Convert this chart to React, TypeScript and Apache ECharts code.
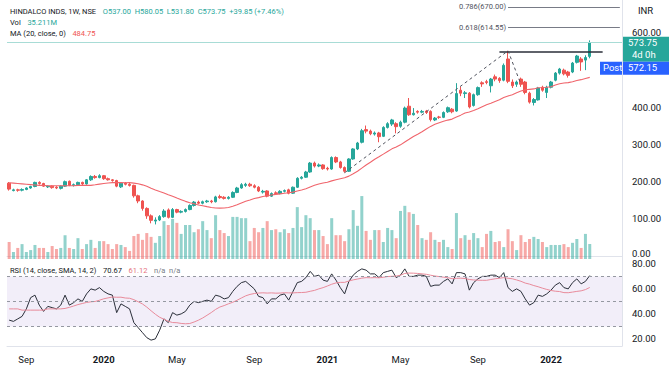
import React, { useEffect, useRef } from "react";
import * as echarts from "echarts";

// ---- data (weekly, HINDALCO INDS, NSE) ----
const startWeek = "2019-08-05";
const futureWeeks = 7;

const opens = [
  196,176,178,177,179,183,187,198,195,186,
  188,185,182,188,201,190,192,198,194,205,
  214,211,216,208,205,203,186,196,193,190,
  162,148,128,108,94,97,106,124,104,125,
  118,120,125,136,145,142,146,148,146,160,
  158,155,158,171,183,190,193,189,185,172,
  175,161,170,168,174,178,169,185,209,212,
  226,250,242,245,236,234,265,253,238,228,
  261,288,306,340,336,328,331,322,346,355,
  356,349,360,403,380,389,387,390,389,366,
  374,373,388,395,390,446,437,438,405,434,
  466,469,458,482,478,473,530,468,462,476,
  468,438,413,420,454,440,454,473,492,500,
  495,495,521,530,527,537,
];
const highs = [
  199,181,181,182,185,189,200,201,197,190,
  190,188,190,203,203,195,200,200,207,217,
  218,220,218,211,207,205,199,199,196,192,
  165,150,131,112,104,110,126,128,129,127,
  123,128,139,148,149,149,151,151,162,165,
  161,161,174,186,196,197,197,193,188,178,
  177,171,174,177,179,181,187,212,215,229,
  253,254,249,247,240,268,268,256,241,263,
  290,307,342,351,340,335,334,349,360,369,
  360,364,402,425,398,392,393,393,392,374,
  377,389,402,398,465,455,444,441,437,456,
  470,474,479,488,481,518,552,475,472,480,
  471,442,425,455,458,458,471,495,506,504,
  498,522,541,535,540,580.05,
];
const lows = [
  176,174,173,174,177,181,185,192,186,183,
  181,180,179,186,188,187,189,191,192,202,
  208,209,205,203,200,185,183,190,187,157,
  142,122,100,88,85,94,103,101,102,115,
  115,117,123,133,139,139,143,142,144,154,
  152,152,156,169,181,186,186,182,172,168,
  158,159,165,166,171,166,167,183,206,210,
  224,238,239,232,230,232,250,235,224,226,
  259,285,303,330,325,324,306,320,343,350,
  330,345,357,377,378,383,384,382,362,363,
  369,371,385,384,388,430,425,397,402,431,
  455,462,440,470,466,470,465,452,455,455,
  435,410,405,418,442,425,451,470,488,486,
  480,492,518,498,500,531.8,
];
const closes = [
  180,178,177,179,183,187,198,195,188,188,
  184,183,188,200,190,192,198,194,205,214,
  211,216,208,205,203,188,196,193,190,162,
  148,128,108,96,97,106,121,104,125,118,
  120,125,136,145,142,146,148,146,159,157,
  155,158,171,183,192,193,189,185,175,174,
  161,168,168,174,176,169,185,209,212,226,
  250,242,245,235,234,265,253,238,228,261,
  288,304,337,336,329,331,321,346,356,366,
  348,360,398,380,384,387,389,386,367,371,
  373,386,399,388,437,438,439,401,434,453,
  463,467,476,476,472,513,470,458,468,462,
  440,414,421,452,446,454,468,492,503,490,
  486,519,538,522,533.9,573.75,
];
// volume, millions of shares
const volumes = [
  40,16.5,26,35,16.5,21,33,26,26,16.5,
  30.5,23.5,26,56,26,23.5,49,23.5,35,45,
  26,42,42,35,23.5,35,33,28,19,54,
  59,45,61,52,38,54,89,80,94,85,
  59,80,80,63,70,89,68,49,103,68,
  61,54,99,99,96,96,42,73,63,73,
  89,68,70,63,70,61,73,122,75,103,
  96,68,68,54,35,96,56,56,42,70,
  115,78,148,66,45,68,68,40,73,68,
  49,113,125,110,106,80,49,45,63,45,
  40,45,28,23.5,108,49,56,45,61,49,
  28,59,66,40,42,28,70,42,21,56,
  40,47,52,47,40,28,33,33,33,35,
  28,38,47,26,59,35.211,
];
const rsi = [
  35,34,36,38,44,53,55,47,42,46,
  45,44,47,55,47,49,52,50,56,60,
  59,61,58,56,55,41,48,46,44,33,
  29,25,21,19,20,27,36,33,41,39,
  40,42,47,50,49,50,51,50,55,54,
  52,53,58,62,65,66,63,60,54,53,
  48,52,52,55,56,51,58,65,66,69,
  74,70,71,67,66,72,67,61,56,66,
  71,74,76,75,72,72,69,73,74,75,
  69,71,76,70,70,71,71,70,62,63,
  63,66,68,64,73,73,72,59,65,68,
  70,70,71,71,69,73,61,58,60,58,
  52,47,49,55,54,56,59,63,65,61,
  60,65,68,64,66,70.67,
];
// MA / RSI-MA values before a full window exists
const maHead = [197,196,195,194,193,192,191,190,190,189,189,189,189,189,189,189,190,190,190];
const rsiMaHead = [44,44,44,43,43,43,43,43,43,44,44,44,44];

const tickIndex = [4, 22, 39, 57, 74, 91, 109, 126];
const tickText = ["Sep", "2020", "May", "Sep", "2021", "May", "Sep", "2022"];
const priceTicks = [0, 100, 200, 300, 400, 600];
const rsiTicks = [20, 40, 60, 80];
const fibLevels = [614.55, 670.0];
const fibRatios = ["0.618", "0.786"];
const trendPoints = [
  { i: 78, p: 224 },
  { i: 116, p: 552 },
  { i: 119, p: 462 },
];
const resistance = { from: 114, to: 138, p: 549 };
const postPrice = 572.15;
const legendVol = "35.211M";
const legendMa = "484.75";
const legendRsi = "70.67";
const legendRsiMa = "61.12";

const FONT = "Roboto, 'DejaVu Sans', sans-serif";
const UP = "#26a69a";
const DOWN = "#ef5350";

export default function App() {
  const ref = useRef<HTMLDivElement>(null);

  useEffect(() => {
    document.body.style.margin = "0";
    const N = closes.length;
    const total = N + futureWeeks;
    const t0 = Date.parse(startWeek + "T00:00:00Z");
    const categories = Array.from({ length: total }, (_, i) =>
      new Date(t0 + i * 7 * 86400000).toISOString().slice(0, 10)
    );
    const cat = (i: number) => categories[i];
    const avg = (a: number[]) => a.reduce((s, v) => s + v, 0) / a.length;
    const ma20 = closes.map((_, i) => (i < 19 ? maHead[i] : +avg(closes.slice(i - 19, i + 1)).toFixed(2)));
    const rsiMa = rsi.map((_, i) => (i < 13 ? rsiMaHead[i] : +avg(rsi.slice(i - 13, i + 1)).toFixed(2)));

    const chart = echarts.init(ref.current!, null, { renderer: "svg" });
    const gridL = 7, gridR = 49;
    const option: any = {
      animation: false,
      textStyle: { fontFamily: FONT },
      grid: [
        { left: gridL, right: gridR, top: 0, height: 262 },
        { left: gridL, right: gridR, top: 0, height: 259 },
        { left: gridL, right: gridR, top: 262, height: 84 },
      ],
      xAxis: [
        { type: "category", gridIndex: 0, data: categories, axisLabel: { show: false }, axisTick: { show: false }, axisLine: { lineStyle: { color: "#e0e3eb" } } },
        { type: "category", gridIndex: 1, data: categories, show: false },
        {
          type: "category", gridIndex: 2, data: categories,
          axisTick: { show: false },
          axisLine: { lineStyle: { color: "#e0e3eb" } },
          axisLabel: {
            interval: (index: number) => tickIndex.includes(index),
            formatter: (_v: string, index: number) => {
              const t = tickText[tickIndex.indexOf(index)] ?? "";
              return /^\d{4}$/.test(t) ? `{y|${t}}` : `{m|${t}}`;
            },
            rich: {
              y: { fontSize: 9.5, fontWeight: "bold", color: "#131722", fontFamily: FONT },
              m: { fontSize: 9.5, color: "#131722", fontFamily: FONT },
            },
            margin: 8,
          },
        },
      ],
      yAxis: [
        {
          type: "value", gridIndex: 0, position: "right", min: -16.1, max: 688.7,
          splitLine: { show: false }, axisTick: { show: false },
          axisLine: { show: true, lineStyle: { color: "#e0e3eb" } },
          axisLabel: {
            customValues: priceTicks,
            formatter: (v: number) => (v === 0 ? `{z|${v.toFixed(2)}}` : `{p|${v.toFixed(2)}}`),
            rich: {
              p: { color: "#131722", fontSize: 9.5, fontFamily: FONT },
              z: { color: "#131722", fontSize: 9.5, fontFamily: FONT, padding: [0, 0, 5, 0] },
            },
            margin: 10,
          },
        },
        { type: "value", gridIndex: 1, min: 0, max: 609, show: false },
        {
          type: "value", gridIndex: 2, position: "right", min: 14.3, max: 81.5,
          splitLine: { show: false }, axisTick: { show: false },
          axisLine: { show: true, lineStyle: { color: "#e0e3eb" } },
          axisLabel: { customValues: rsiTicks, formatter: (v: number) => v.toFixed(2), color: "#131722", fontSize: 9.5, margin: 10 },
        },
      ],
      series: [
        {
          type: "bar", xAxisIndex: 1, yAxisIndex: 1, barWidth: 3, silent: true,
          data: volumes.map((v, i) => ({
            value: v,
            itemStyle: { color: closes[i] >= opens[i] ? "rgba(38,166,154,0.5)" : "rgba(239,83,80,0.5)" },
          })),
        },
        {
          type: "candlestick", xAxisIndex: 0, yAxisIndex: 0, barWidth: 3,
          data: closes.map((c, i) => [opens[i], c, lows[i], highs[i]]),
          itemStyle: { color: UP, color0: DOWN, borderColor: UP, borderColor0: DOWN, borderWidth: 1 },
          markLine: {
            silent: true, symbol: ["none", "none"],
            data: [
              { yAxis: closes[N - 1], lineStyle: { color: "#a8dcd6", type: "solid", width: 1 }, label: { show: false } },
              [
                { coord: [cat(resistance.from), resistance.p] },
                { coord: [cat(resistance.to), resistance.p], lineStyle: { color: "#2a2e39", width: 1.6, type: "solid" }, label: { show: false } },
              ],
              [
                { coord: [cat(trendPoints[0].i), trendPoints[0].p] },
                { coord: [cat(trendPoints[1].i), trendPoints[1].p], lineStyle: { color: "#50535e", width: 1, type: [3, 3] }, label: { show: false } },
              ],
              [
                { coord: [cat(trendPoints[1].i), trendPoints[1].p] },
                { coord: [cat(trendPoints[2].i), trendPoints[2].p], lineStyle: { color: "#50535e", width: 1, type: [3, 3] }, label: { show: false } },
              ],
              ...fibLevels.map((lv, k) => [
                {
                  coord: [cat(trendPoints[1].i), lv],
                  label: {
                    show: true, position: "start", distance: 2,
                    formatter: `${fibRatios[k]}(${lv.toFixed(2)})`,
                    color: "#50535e", fontSize: 7.5, fontFamily: FONT, padding: [0, 0, 8, 0],
                  },
                },
                { coord: [cat(total - 1), lv], lineStyle: { color: "#787b86", width: 1, type: "solid" } },
              ]),
            ],
          },
        },
        {
          type: "line", xAxisIndex: 0, yAxisIndex: 0, data: ma20, symbol: "none", silent: true,
          lineStyle: { color: "#f0656c", width: 1.1 },
        },
        {
          type: "line", xAxisIndex: 2, yAxisIndex: 2, data: rsi, symbol: "none", silent: true,
          lineStyle: { color: "#2a2e39", width: 1 },
          markArea: { silent: true, itemStyle: { color: "rgba(126,87,194,0.1)" }, data: [[{ yAxis: 70 }, { yAxis: 30 }]] },
          markLine: {
            silent: true, symbol: ["none", "none"], label: { show: false },
            lineStyle: { color: "#9598a1", type: [3, 3], width: 1 },
            data: [{ yAxis: 70 }, { yAxis: 50 }, { yAxis: 30 }],
          },
        },
        {
          type: "line", xAxisIndex: 2, yAxisIndex: 2, data: rsiMa, symbol: "none", silent: true,
          lineStyle: { color: "#e88a9a", width: 1 },
        },
      ],
    };
    chart.setOption(option);

    const last = closes[N - 1];
    const prev = closes[N - 2];
    const chg = last - prev;
    const pct = (chg / prev) * 100;
    const yLast = chart.convertToPixel({ yAxisIndex: 0 }, last) as number;
    const axisX = 671 - gridR;
    const lf = 7.5;

    chart.setOption({
      graphic: [
        {
          type: "text", left: 10, top: 5,
          style: {
            text: `{t|HINDALCO INDS, 1W, NSE}  {v|O${opens[N - 1].toFixed(2)}  H${highs[N - 1].toFixed(2)}  L${lows[N - 1].toFixed(2)}  C${last.toFixed(2)}  +${chg.toFixed(2)} (+${pct.toFixed(2)}%)}`,
            rich: {
              t: { fill: "#131722", fontSize: lf, fontFamily: FONT },
              v: { fill: UP, fontSize: lf, fontFamily: FONT },
            },
          },
        },
        {
          type: "text", left: 10, top: 16,
          style: {
            text: `{t|Vol}  {v|${legendVol}}`,
            rich: { t: { fill: "#131722", fontSize: lf, fontFamily: FONT }, v: { fill: UP, fontSize: lf, fontFamily: FONT } },
          },
        },
        {
          type: "text", left: 10, top: 27,
          style: {
            text: `{t|MA (20, close, 0)}  {v|${legendMa}}`,
            rich: { t: { fill: "#131722", fontSize: lf, fontFamily: FONT }, v: { fill: DOWN, fontSize: lf, fontFamily: FONT } },
          },
        },
        {
          type: "text", left: 10, top: 264,
          style: {
            text: `{t|RSI (14, close, SMA, 14, 2)}  {a|${legendRsi}}  {b|${legendRsiMa}}  {n|n/a  n/a}`,
            rich: {
              t: { fill: "#131722", fontSize: lf, fontFamily: FONT },
              a: { fill: "#131722", fontSize: lf, fontFamily: FONT },
              b: { fill: "#e57380", fontSize: lf, fontFamily: FONT },
              n: { fill: "#787b86", fontSize: lf, fontFamily: FONT },
            },
          },
        },
        {
          type: "text", left: axisX + 16, top: 5,
          style: { text: "INR", fill: "#131722", fontSize: 9.5, fontFamily: FONT },
        },
        {
          type: "rect", shape: { x: axisX + 1, y: yLast - 6, width: 46, height: 25 },
          style: { fill: UP },
        },
        {
          type: "text", x: axisX + 6, y: yLast - 5,
          style: { text: last.toFixed(2), fill: "#fff", fontSize: 9.5, fontFamily: FONT },
        },
        {
          type: "text", x: axisX + 10, y: yLast + 7,
          style: { text: "4d 0h", fill: "#fff", fontSize: 9.5, fontFamily: FONT },
        },
        {
          type: "rect", shape: { x: axisX - 22, y: yLast + 19, width: 69, height: 13 },
          style: { fill: "#2962ff" },
        },
        {
          type: "text", x: axisX - 19, y: yLast + 20,
          style: { text: "Post", fill: "#fff", fontSize: 9.5, fontFamily: FONT },
        },
        {
          type: "text", x: axisX + 6, y: yLast + 20,
          style: { text: postPrice.toFixed(2), fill: "#fff", fontSize: 9.5, fontFamily: FONT },
        },
      ],
    });

    return () => chart.dispose();
  }, []);

  return <div ref={ref} style={{ width: 671, height: 368 }} />;
}
